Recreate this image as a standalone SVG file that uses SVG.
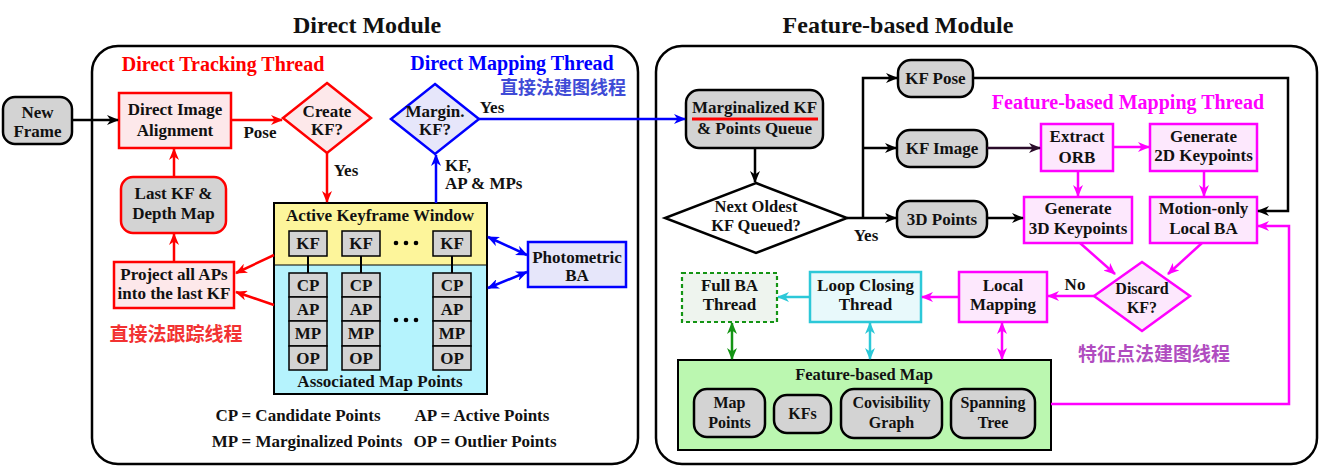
<svg xmlns="http://www.w3.org/2000/svg" width="1334" height="476" viewBox="0 0 1334 476">
<style>
text{font-family:"Liberation Serif","Times New Roman",serif;font-weight:bold;text-anchor:middle;fill:#111}
.t15{font-size:17px}
.t14{font-size:16.5px}
.t16{font-size:16px}
.ttl{font-size:24px}
.thr{font-size:20px}
.cjk{font-family:"Noto Sans CJK SC",sans-serif;font-size:19px;font-weight:bold}
.frame{fill:#fff;stroke:#000;stroke-width:2.5}
.gray{fill:#d3d3d3;stroke:#000;stroke-width:2.5}
.redn{fill:#fde8ea;stroke:#f00;stroke-width:2.5}
.bluen{fill:#e6e6fa;stroke:#00f;stroke-width:2.5}
.magn{fill:#fde8fd;stroke:#f0f;stroke-width:2.5}
.cell{fill:#d3d3d3;stroke:#000;stroke-width:1.5}
.c{fill:none;stroke-width:2.5}
.k{stroke:#000}.r{stroke:#f00}.b{stroke:#00f}.m{stroke:#f0f}.cy{stroke:#2cc8d8}.g{stroke:#149414}.p{stroke:#2a0c2a}
</style>
<defs>
<marker id="ak" viewBox="0 0 12 10" refX="11" refY="5" markerWidth="12" markerHeight="10" markerUnits="userSpaceOnUse" orient="auto-start-reverse"><path d="M0,0 L12,5 L0,10 L3.5,5 z" fill="#000"/></marker>
<marker id="ar" viewBox="0 0 12 10" refX="11" refY="5" markerWidth="12" markerHeight="10" markerUnits="userSpaceOnUse" orient="auto-start-reverse"><path d="M0,0 L12,5 L0,10 L3.5,5 z" fill="#f00"/></marker>
<marker id="ab" viewBox="0 0 12 10" refX="11" refY="5" markerWidth="12" markerHeight="10" markerUnits="userSpaceOnUse" orient="auto-start-reverse"><path d="M0,0 L12,5 L0,10 L3.5,5 z" fill="#00f"/></marker>
<marker id="am" viewBox="0 0 12 10" refX="11" refY="5" markerWidth="12" markerHeight="10" markerUnits="userSpaceOnUse" orient="auto-start-reverse"><path d="M0,0 L12,5 L0,10 L3.5,5 z" fill="#f0f"/></marker>
<marker id="ac" viewBox="0 0 12 10" refX="11" refY="5" markerWidth="12" markerHeight="10" markerUnits="userSpaceOnUse" orient="auto-start-reverse"><path d="M0,0 L12,5 L0,10 L3.5,5 z" fill="#2cc8d8"/></marker>
<marker id="ag" viewBox="0 0 12 10" refX="11" refY="5" markerWidth="12" markerHeight="10" markerUnits="userSpaceOnUse" orient="auto-start-reverse"><path d="M0,0 L12,5 L0,10 L3.5,5 z" fill="#149414"/></marker>
<marker id="ap" viewBox="0 0 12 10" refX="11" refY="5" markerWidth="12" markerHeight="10" markerUnits="userSpaceOnUse" orient="auto-start-reverse"><path d="M0,0 L12,5 L0,10 L3.5,5 z" fill="#2a0c2a"/></marker>
</defs>
<rect width="1334" height="476" fill="#fff"/>

<g id="direct-module">
<rect class="frame" x="92" y="46" width="546" height="418" rx="26"/>
<text class="ttl" x="367" y="33">Direct Module</text>
<text class="thr" x="223" y="71" style="fill:#f00">Direct Tracking Thread</text>
<text class="thr" x="512" y="70" style="fill:#00f">Direct Mapping Thread</text>
<text class="cjk" x="563" y="94" style="fill:#3f4bd6;font-size:18px">直接法建图线程</text>
<text class="cjk" x="176" y="341" style="fill:#f23232">直接法跟踪线程</text>
</g>

<g id="feature-module">
<rect class="frame" x="656" y="46" width="661" height="418" rx="26"/>
<text class="ttl" x="898" y="33">Feature-based Module</text>
<text class="thr" x="1128" y="109" style="fill:#f0f">Feature-based Mapping Thread</text>
<text class="cjk" x="1154" y="361" style="fill:#b04cc0">特征点法建图线程</text>
</g>

<g id="new-frame">
<rect class="gray" x="3" y="97" width="69" height="47" rx="12"/>
<text class="t15" x="37.5" y="118">New</text>
<text class="t15" x="37.5" y="137">Frame</text>
</g>

<g id="direct-image-alignment">
<rect class="redn" x="119" y="93" width="112" height="55"/>
<text class="t15" x="175" y="115">Direct Image</text>
<text class="t15" x="175" y="136">Alignment</text>
</g>

<g id="create-kf">
<path class="redn" d="M327,83 L371,118 L327,153 L283,118 z"/>
<text class="t15" x="327" y="117">Create</text>
<text class="t15" x="327" y="135">KF?</text>
</g>

<g id="margin-kf">
<path class="bluen" d="M435,84 L479,119 L435,154 L391,119 z"/>
<text class="t15" x="435" y="117">Margin.</text>
<text class="t15" x="435" y="135">KF?</text>
</g>

<g id="last-kf">
<rect class="gray" x="121" y="177" width="105" height="56" rx="12" style="stroke:#f00"/>
<text class="t15" x="173.5" y="199">Last KF &amp;</text>
<text class="t15" x="173.5" y="219">Depth Map</text>
</g>

<g id="project-aps">
<rect class="redn" x="114" y="262" width="120" height="46"/>
<text class="t15" x="174" y="280">Project all APs</text>
<text class="t15" x="174" y="299">into the last KF</text>
</g>

<g id="active-window">
<rect x="274" y="203" width="213" height="62" fill="#fdf59b"/>
<rect x="274" y="265" width="213" height="129" fill="#b5f3fd"/>
<line x1="274" y1="265" x2="487" y2="265" stroke="#000" stroke-width="1"/>
<rect x="274" y="203" width="213" height="191" fill="none" stroke="#000" stroke-width="2"/>
<text class="t15" x="380" y="221">Active Keyframe Window</text>
<text class="t15" x="380" y="387">Associated Map Points</text>
<g stroke="#000" stroke-width="2"><line x1="308" y1="256" x2="308" y2="273"/><line x1="361" y1="256" x2="361" y2="273"/><line x1="452" y1="256" x2="452" y2="273"/></g>
<rect class="cell" x="289" y="231" width="38" height="25"/><text class="t15" x="308" y="249">KF</text>
<rect class="cell" x="342" y="231" width="38" height="25"/><text class="t15" x="361" y="249">KF</text>
<rect class="cell" x="433" y="231" width="38" height="25"/><text class="t15" x="452" y="249">KF</text>
<g fill="#000"><circle cx="396" cy="243" r="2.3"/><circle cx="406" cy="243" r="2.3"/><circle cx="416" cy="243" r="2.3"/><circle cx="396" cy="320" r="2.3"/><circle cx="406" cy="320" r="2.3"/><circle cx="416" cy="320" r="2.3"/></g>
<g>
<rect class="cell" x="289" y="273" width="38" height="24"/><text class="t15" x="308" y="291">CP</text>
<rect class="cell" x="289" y="297" width="38" height="24"/><text class="t15" x="308" y="315">AP</text>
<rect class="cell" x="289" y="321" width="38" height="25"/><text class="t15" x="308" y="339">MP</text>
<rect class="cell" x="289" y="346" width="38" height="24"/><text class="t15" x="308" y="364">OP</text>
</g>
<g>
<rect class="cell" x="342" y="273" width="38" height="24"/><text class="t15" x="361" y="291">CP</text>
<rect class="cell" x="342" y="297" width="38" height="24"/><text class="t15" x="361" y="315">AP</text>
<rect class="cell" x="342" y="321" width="38" height="25"/><text class="t15" x="361" y="339">MP</text>
<rect class="cell" x="342" y="346" width="38" height="24"/><text class="t15" x="361" y="364">OP</text>
</g>
<g>
<rect class="cell" x="433" y="273" width="38" height="24"/><text class="t15" x="452" y="291">CP</text>
<rect class="cell" x="433" y="297" width="38" height="24"/><text class="t15" x="452" y="315">AP</text>
<rect class="cell" x="433" y="321" width="38" height="25"/><text class="t15" x="452" y="339">MP</text>
<rect class="cell" x="433" y="346" width="38" height="24"/><text class="t15" x="452" y="364">OP</text>
</g>
</g>

<g id="legend">
<text class="t15" x="298" y="421">CP = Candidate Points</text>
<text class="t15" x="482" y="421">AP = Active Points</text>
<text class="t15" x="307" y="447">MP = Marginalized Points</text>
<text class="t15" x="485" y="447">OP = Outlier Points</text>
</g>

<g id="photometric-ba">
<rect class="bluen" x="528" y="242" width="98" height="45"/>
<text class="t15" x="577" y="263">Photometric</text>
<text class="t15" x="577" y="281">BA</text>
</g>

<g id="marg-queue">
<rect class="gray" x="686" y="90" width="137" height="58" rx="13"/>
<text class="t15" x="754.5" y="113">Marginalized KF</text>
<line x1="692" y1="119" x2="818" y2="119" stroke="#f00" stroke-width="3"/>
<text class="t15" x="754.5" y="134">&amp; Points Queue</text>
</g>

<g id="next-oldest">
<path d="M756,183 L847,218 L756,253 L665,218 z" fill="#fff" stroke="#000" stroke-width="2.5"/>
<text class="t14" x="756" y="212">Next Oldest</text>
<text class="t14" x="756" y="231">KF Queued?</text>
</g>

<g id="kf-pose">
<rect class="gray" x="898" y="60" width="75" height="37" rx="13"/>
<text class="t15" x="935.5" y="84">KF Pose</text>
</g>
<g id="kf-image">
<rect class="gray" x="897" y="130" width="90" height="37" rx="13"/>
<text class="t15" x="942" y="154">KF Image</text>
</g>
<g id="points-3d">
<rect class="gray" x="897" y="201" width="90" height="36" rx="13"/>
<text class="t15" x="942" y="225">3D Points</text>
</g>

<g id="extract-orb">
<rect class="magn" x="1041" y="124" width="72" height="47"/>
<text class="t15" x="1077" y="142">Extract</text>
<text class="t15" x="1077" y="163">ORB</text>
</g>
<g id="gen-2d">
<rect class="magn" x="1150" y="124" width="107" height="47"/>
<text class="t15" x="1203.5" y="142">Generate</text>
<text class="t15" x="1203.5" y="161">2D Keypoints</text>
</g>
<g id="gen-3d">
<rect class="magn" x="1024" y="197" width="108" height="46"/>
<text class="t15" x="1078" y="214">Generate</text>
<text class="t15" x="1078" y="234">3D Keypoints</text>
</g>
<g id="motion-ba">
<rect class="magn" x="1150" y="197" width="107" height="46"/>
<text class="t15" x="1203.5" y="214">Motion-only</text>
<text class="t15" x="1203.5" y="234">Local BA</text>
</g>
<g id="discard-kf">
<path class="magn" d="M1142,262 L1190,296 L1142,331 L1094,296 z"/>
<text class="t16" x="1142" y="294">Discard</text>
<text class="t16" x="1142" y="313">KF?</text>
</g>
<g id="local-mapping">
<rect class="magn" x="959" y="272" width="88" height="50"/>
<text class="t15" x="1003" y="291">Local</text>
<text class="t15" x="1003" y="310">Mapping</text>
</g>
<g id="loop-closing">
<rect x="810" y="272" width="111" height="50" fill="#e8f9fb" stroke="#2cc8d8" stroke-width="2.5"/>
<text class="t15" x="865.5" y="291">Loop Closing</text>
<text class="t15" x="865.5" y="310">Thread</text>
</g>
<g id="full-ba">
<rect x="682" y="273" width="95" height="49" fill="#eef4ee" stroke="#149414" stroke-width="2.2" stroke-dasharray="4,3"/>
<text class="t15" x="729.5" y="291">Full BA</text>
<text class="t15" x="729.5" y="310">Thread</text>
</g>

<g id="feature-map">
<rect x="678" y="360" width="373" height="90" fill="#bbf7b0" stroke="#000" stroke-width="2"/>
<text class="t14" x="864" y="380">Feature-based Map</text>
<rect class="gray" x="694" y="389" width="71" height="48" rx="13"/>
<text class="t16" x="729.5" y="408">Map</text>
<text class="t16" x="729.5" y="428">Points</text>
<rect class="gray" x="774" y="395" width="57" height="38" rx="13"/>
<text class="t16" x="802.5" y="419">KFs</text>
<rect class="gray" x="841" y="389" width="101" height="49" rx="13"/>
<text class="t16" x="891.5" y="408">Covisibility</text>
<text class="t16" x="891.5" y="428">Graph</text>
<rect class="gray" x="951" y="389" width="84" height="49" rx="13"/>
<text class="t16" x="993" y="408">Spanning</text>
<text class="t16" x="993" y="428">Tree</text>
</g>

<g id="connectors">
<path class="c k" d="M72,120 H118" marker-end="url(#ak)"/>
<path class="c r" d="M231,120 H282" marker-end="url(#ar)"/>
<text class="t15" x="260" y="138">Pose</text>
<path class="c r" d="M327,153 V202" marker-end="url(#ar)"/>
<text class="t15" x="346" y="176">Yes</text>
<path class="c r" d="M174,177 V149" marker-end="url(#ar)"/>
<path class="c r" d="M174,262 V234" marker-end="url(#ar)"/>
<path class="c r" d="M274,255 L236,273" marker-end="url(#ar)"/>
<path class="c r" d="M274,305 L236,292" marker-end="url(#ar)"/>
<path class="c b" d="M436,203 V155" marker-end="url(#ab)"/>
<text class="t15" x="445" y="171" style="text-anchor:start">KF,</text>
<text class="t15" x="445" y="189" style="text-anchor:start">AP &amp; MPs</text>
<path class="c b" d="M479,119 H685" marker-end="url(#ab)"/>
<text class="t15" x="492" y="113">Yes</text>
<path class="c b" d="M488,237 L527,255" marker-start="url(#ab)" marker-end="url(#ab)"/>
<path class="c b" d="M488,288 L527,272" marker-start="url(#ab)" marker-end="url(#ab)"/>
<path class="c k" d="M755,148 V182" marker-end="url(#ak)"/>
<path class="c k" d="M847,218 H896" marker-end="url(#ak)"/>
<path class="c k" d="M863,218 V78 H897" marker-end="url(#ak)"/>
<path class="c k" d="M863,148 H896" marker-end="url(#ak)"/>
<text class="t15" x="866" y="241">Yes</text>
<path class="c k" d="M973,78 H1288 V211 H1258" marker-end="url(#ak)"/>
<path class="c p" d="M987,148 H1040" marker-end="url(#ap)"/>
<path class="c k" d="M987,218 H1023" marker-end="url(#ak)"/>
<path class="c m" d="M1113,147 H1149" marker-end="url(#am)"/>
<path class="c m" d="M1078,171 V196" marker-end="url(#am)"/>
<path class="c m" d="M1204,171 V196" marker-end="url(#am)"/>
<path class="c m" d="M1080,243 L1115,274" marker-end="url(#am)"/>
<path class="c m" d="M1202,243 L1168,274" marker-end="url(#am)"/>
<path class="c m" d="M1094,296 H1048" marker-end="url(#am)"/>
<text class="t15" x="1075" y="290">No</text>
<path class="c m" d="M959,297 H922" marker-end="url(#am)"/>
<path class="c cy" d="M810,297 H778" marker-end="url(#ac)"/>
<path class="c g" d="M732,323 V359" marker-start="url(#ag)" marker-end="url(#ag)"/>
<path class="c cy" d="M870,323 V359" marker-start="url(#ac)" marker-end="url(#ac)"/>
<path class="c m" d="M1002,323 V359" marker-start="url(#am)" marker-end="url(#am)"/>
<path class="c m" d="M1051,404 H1289 V226 H1258" marker-end="url(#am)"/>
</g>
</svg>
